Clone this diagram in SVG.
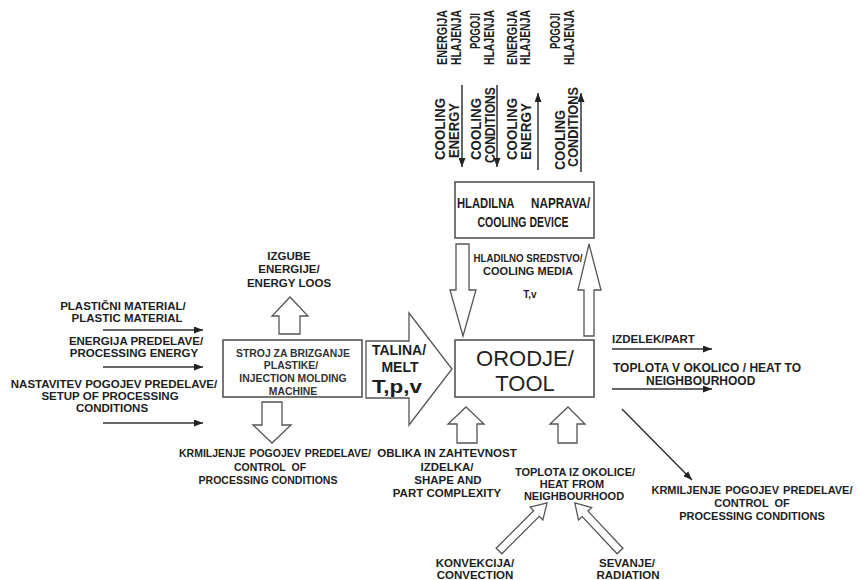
<svg xmlns="http://www.w3.org/2000/svg" width="859" height="580" viewBox="0 0 859 580">
<style>
.t{font-family:"Liberation Sans",Arial,sans-serif;font-weight:bold;font-size:11.5px;fill:#1e1e1e}
.c{text-anchor:middle}
.m{fill:#333;font-size:10.4px}
.v{font-size:15px}
.s105{font-size:10.5px}
.s11{font-size:11px}
.s12{font-size:12px}
.s14{font-size:14px}
.s15{font-size:15px}
.s18{font-size:18px}
.s9{font-size:10px}
.box{fill:#fff;stroke:#555;stroke-width:1.6}
.ha{fill:#fff;stroke:#555;stroke-width:1.3;stroke-linejoin:miter}
.ln{stroke:#333;stroke-width:1.5;fill:none;marker-end:url(#ah)}
.big{font-family:"Liberation Sans",Arial,sans-serif;font-size:22px;fill:#222;text-anchor:middle}
</style>
<defs>
<marker id="ah" markerUnits="userSpaceOnUse" markerWidth="9" markerHeight="7" refX="9" refY="3.5" orient="auto">
<path d="M0,0 L9,3.5 L0,7 z" fill="#222"/>
</marker>
</defs>
<rect width="859" height="580" fill="#fff"/>

<g id="connectors">
<line class="ln" x1="103" y1="330" x2="203" y2="330"/>
<line class="ln" x1="103" y1="367" x2="203" y2="367"/>
<line class="ln" x1="103" y1="423" x2="203" y2="423"/>
<line class="ln" x1="612" y1="349" x2="712" y2="349"/>
<line class="ln" x1="612" y1="389" x2="712" y2="389"/>
<line class="ln" x1="622" y1="409" x2="692" y2="480"/>
<line class="ln" x1="462" y1="85" x2="462" y2="167"/>
<line class="ln" x1="497" y1="85" x2="497" y2="167"/>
<line class="ln" x1="538" y1="170" x2="538" y2="93"/>
<line class="ln" x1="581" y1="172" x2="581" y2="93"/>
<polygon class="ha" points="290,297 308,316 300,316 300,334 279,334 279,316 272,316"/>
<polygon class="ha" points="262,402 282,402 282,425 291,425 272,443 253,425 262,425"/>
<polygon class="ha" points="366,341 409,341 409,313 452,369 409,425 409,398 366,398"/>
<polygon class="ha" points="456,244 469,244 469,290 476,290 463,336 450,290 456,290"/>
<polygon class="ha" points="589,244 601,290 594,290 594,336 584,336 584,290 578,290"/>
<polygon class="ha" points="466,407 484,424 477,424 477,443 457,443 457,424 448,424"/>
<polygon class="ha" points="568,407 585,424 577,424 577,443 558,443 558,424 550,424"/>
<polygon class="ha" transform="translate(499,551) rotate(-45)" points="0,-4 53,-4 53,-9 68,0 53,9 53,4 0,4"/>
<polygon class="ha" transform="translate(620,551) rotate(-133.2)" points="0,-4 51,-4 51,-9 66,0 51,9 51,4 0,4"/>
</g>

<g id="machine">
<rect class="box" x="223" y="340" width="139" height="57"/>
<text class="t c m" x="293" y="357">STROJ ZA BRIZGANJE</text>
<text class="t c m" x="291" y="369">PLASTIKE/</text>
<text class="t c m" x="293" y="382">INJECTION MOLDING</text>
<text class="t c m" x="293" y="395">MACHINE</text>
</g>

<g id="tool">
<rect class="box" x="455" y="340" width="139" height="57"/>
<text class="big" x="525" y="366">ORODJE/</text>
<text class="big" x="525" y="391">TOOL</text>
</g>

<g id="cooling-device">
<rect class="box" x="455" y="182" width="139" height="56"/>
<text class="t s15" transform="translate(457,208) scale(0.75,1)">HLADILNA</text>
<text class="t s15" transform="translate(531,208) scale(0.78,1)">NAPRAVA/</text>
<text class="t c s15" transform="translate(523,227) scale(0.70,1)">COOLING DEVICE</text>
</g>

<g id="melt">
<text class="t c s14" x="399" y="355">TALINA/</text>
<text class="t c s14" x="400" y="372">MELT</text>
<text class="t c s18" x="397" y="393" textLength="50" lengthAdjust="spacingAndGlyphs">T,p,v</text>
</g>

<g id="cooling-media">
<text class="t c s11" x="528" y="262" textLength="109" lengthAdjust="spacingAndGlyphs">HLADILNO SREDSTVO/</text>
<text class="t c s11" x="528" y="275">COOLING MEDIA</text>
<text class="t c s9" x="530" y="298">T,v</text>
</g>

<g id="top-labels">
<text class="t v" transform="translate(447,65) rotate(-90) scale(0.717,1)">ENERGIJA</text>
<text class="t v" transform="translate(461,65) rotate(-90) scale(0.694,1)">HLAJENJA</text>
<text class="t v" transform="translate(480,49) rotate(-90) scale(0.626,1)">POGOJI</text>
<text class="t v" transform="translate(494,65) rotate(-90) scale(0.694,1)">HLAJENJA</text>
<text class="t v" transform="translate(517,65) rotate(-90) scale(0.717,1)">ENERGIJA</text>
<text class="t v" transform="translate(530,65) rotate(-90) scale(0.694,1)">HLAJENJA</text>
<text class="t v" transform="translate(560,49) rotate(-90) scale(0.626,1)">POGOJI</text>
<text class="t v" transform="translate(574,65) rotate(-90) scale(0.694,1)">HLAJENJA</text>
<text class="t v" transform="translate(445,160) rotate(-90) scale(0.886,1)">COOLING</text>
<text class="t v" transform="translate(459,158) rotate(-90) scale(0.868,1)">ENERGY</text>
<text class="t v" transform="translate(481,160) rotate(-90) scale(0.886,1)">COOLING</text>
<text class="t v" transform="translate(495,163) rotate(-90) scale(0.807,1)">CONDITIONS</text>
<text class="t v" transform="translate(517,160) rotate(-90) scale(0.886,1)">COOLING</text>
<text class="t v" transform="translate(531,160) rotate(-90) scale(0.9,1)">ENERGY</text>
<text class="t v" transform="translate(565,170) rotate(-90) scale(0.857,1)">COOLING</text>
<text class="t v" transform="translate(578,167) rotate(-90) scale(0.85,1)">CONDITIONS</text>
</g>

<g id="inputs">
<text class="t c" x="123" y="310">PLASTIČNI MATERIAL/</text>
<text class="t c" x="127" y="322">PLASTIC MATERIAL</text>
<text class="t c" x="136" y="345">ENERGIJA PREDELAVE/</text>
<text class="t c" x="134" y="357">PROCESSING ENERGY</text>
<text class="t c" x="114" y="388">NASTAVITEV POGOJEV PREDELAVE/</text>
<text class="t c" x="110" y="400">SETUP OF PROCESSING</text>
<text class="t c" x="112" y="412">CONDITIONS</text>
</g>

<g id="energy-loss">
<text class="t c" x="289" y="260">IZGUBE</text>
<text class="t c" x="289" y="273">ENERGIJE/</text>
<text class="t c" x="289" y="287">ENERGY LOOS</text>
</g>

<g id="control-left">
<text class="t c s105" x="275" y="457" word-spacing="1">KRMILJENJE POGOJEV PREDELAVE/</text>
<text class="t c s105" x="270" y="471" word-spacing="3">CONTROL OF</text>
<text class="t c s105" x="268" y="484">PROCESSING CONDITIONS</text>
</g>

<g id="shape">
<text class="t c" x="447" y="457">OBLIKA IN ZAHTEVNOST</text>
<text class="t c" x="447" y="471">IZDELKA/</text>
<text class="t c" x="448" y="484">SHAPE AND</text>
<text class="t c" x="447" y="497">PART COMPLEXITY</text>
</g>

<g id="heat-from">
<text class="t c s11" x="575" y="476">TOPLOTA IZ OKOLICE/</text>
<text class="t c s11" x="572" y="488">HEAT FROM</text>
<text class="t c s11" x="574" y="500">NEIGHBOURHOOD</text>
</g>

<g id="convection">
<text class="t c" x="475" y="567">KONVEKCIJA/</text>
<text class="t c" x="475" y="579">CONVECTION</text>
</g>

<g id="radiation">
<text class="t c" x="627" y="567">SEVANJE/</text>
<text class="t c" x="628" y="579">RADIATION</text>
</g>

<g id="outputs">
<text class="t" x="612" y="343">IZDELEK/PART</text>
<text class="t s12" x="613" y="372">TOPLOTA V OKOLICO / HEAT TO</text>
<text class="t s12" x="646" y="385">NEIGHBOURHOOD</text>
</g>

<g id="control-right">
<text class="t c s11" x="752" y="494" word-spacing="1">KRMILJENJE POGOJEV PREDELAVE/</text>
<text class="t c s11" x="752" y="507" word-spacing="3">CONTROL OF</text>
<text class="t c s11" x="752" y="520">PROCESSING CONDITIONS</text>
</g>
</svg>
